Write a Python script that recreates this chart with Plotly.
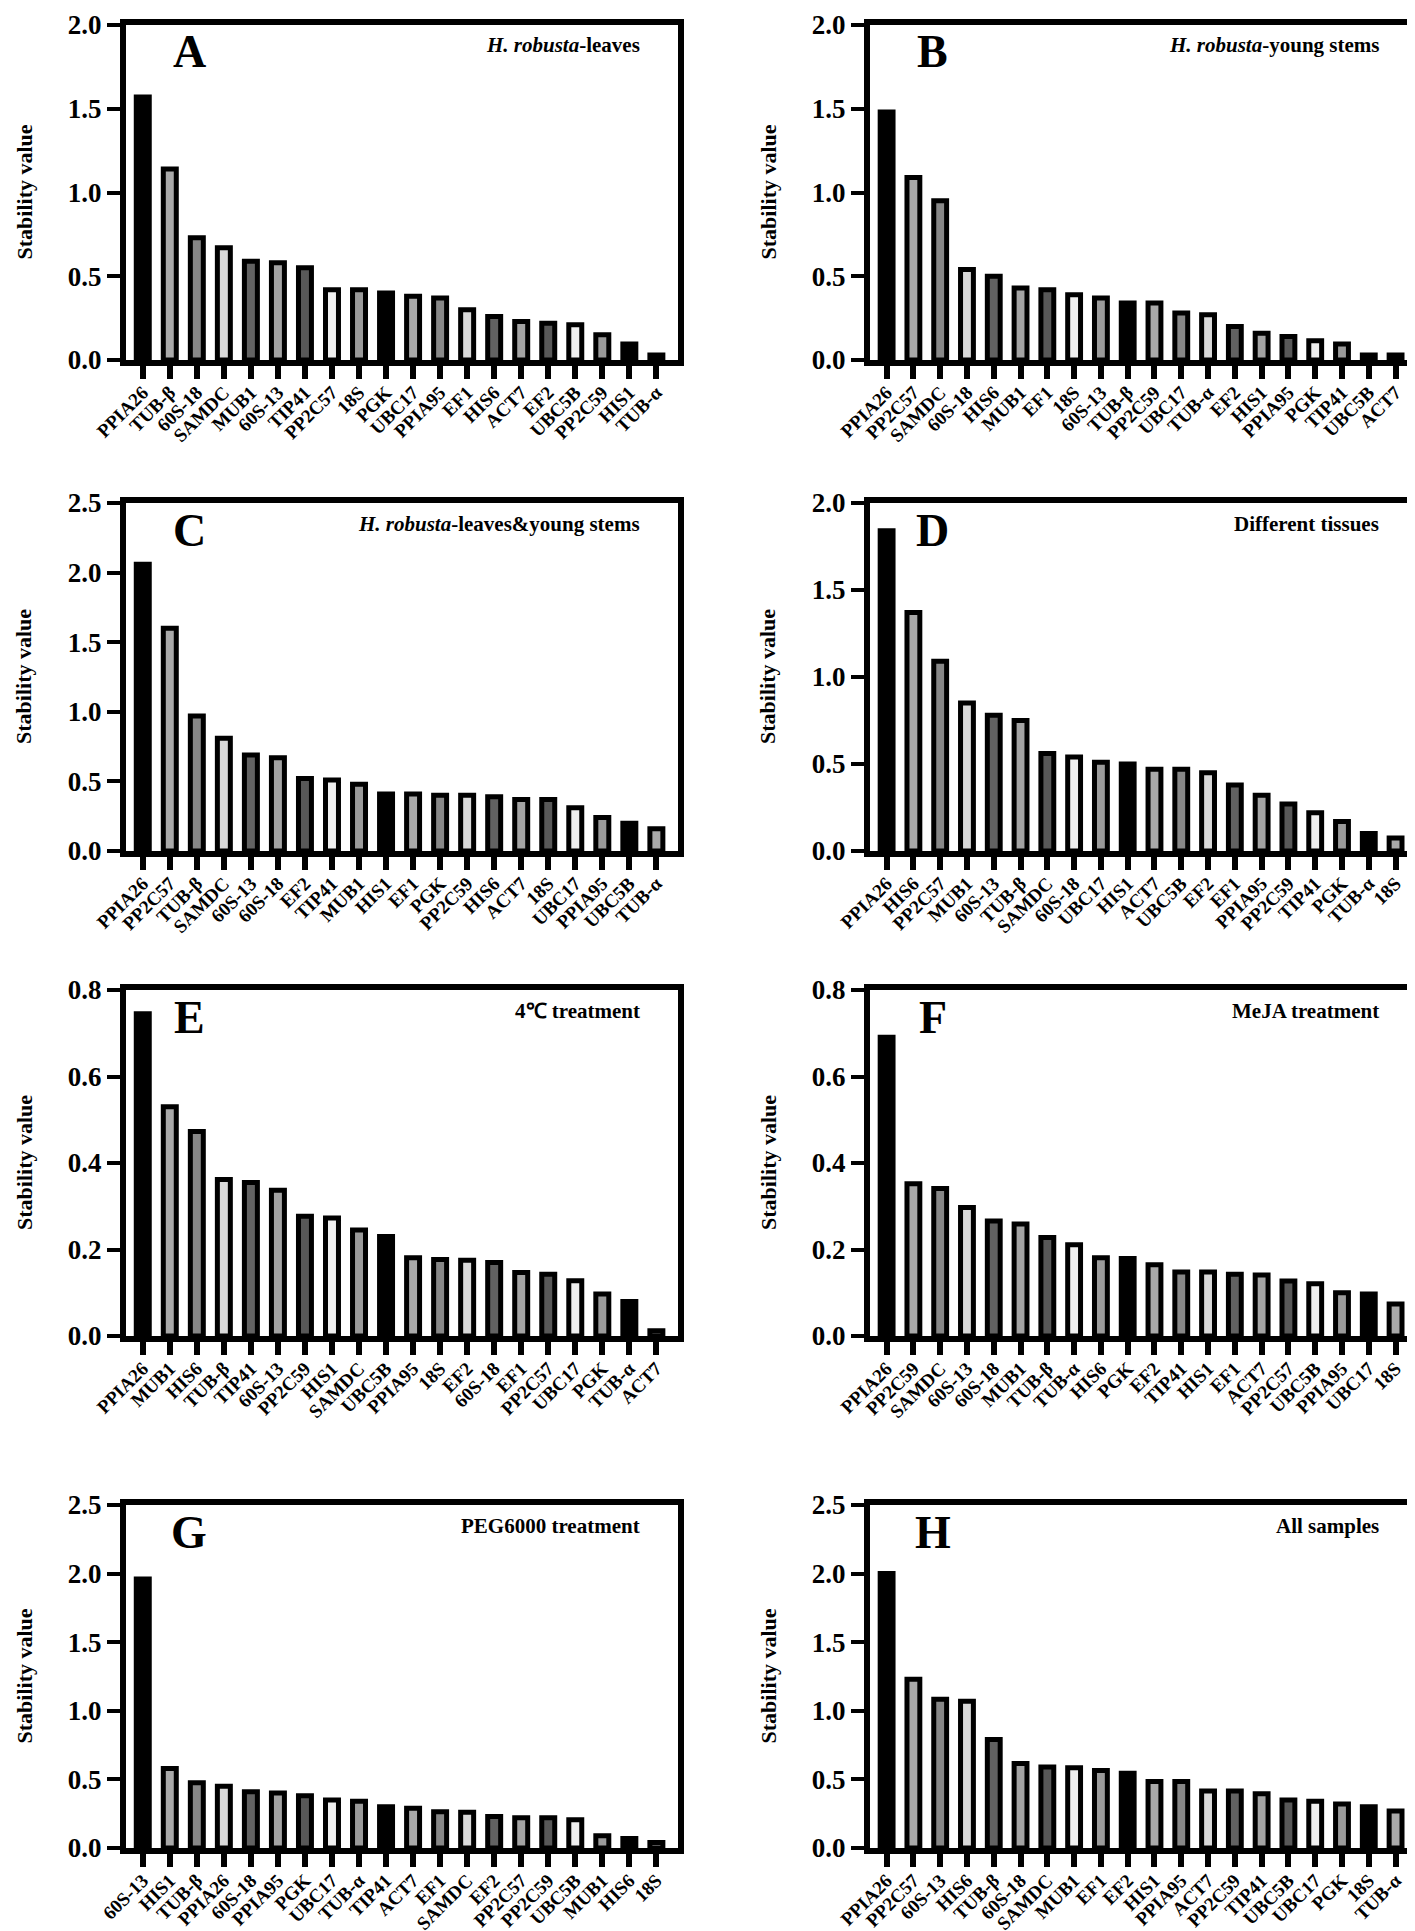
import plotly.graph_objects as go

# ---------------- data ----------------
genes_A = ["PPIA26", "TUB-β", "60S-18", "SAMDC", "MUB1", "60S-13", "TIP41", "PP2C57", "18S", "PGK",
           "UBC17", "PPIA95", "EF1", "HIS6", "ACT7", "EF2", "UBC5B", "PP2C59", "HIS1", "TUB-α"]
vals_A = [1.57, 1.14, 0.73, 0.67, 0.59, 0.58, 0.55, 0.42, 0.42, 0.40,
          0.38, 0.37, 0.30, 0.26, 0.23, 0.22, 0.21, 0.15, 0.095, 0.03]

genes_B = ["PPIA26", "PP2C57", "SAMDC", "60S-18", "HIS6", "MUB1", "EF1", "18S", "60S-13", "TUB-β",
           "PP2C59", "UBC17", "TUB-α", "EF2", "HIS1", "PPIA95", "PGK", "TIP41", "UBC5B", "ACT7"]
vals_B = [1.48, 1.09, 0.95, 0.54, 0.50, 0.43, 0.42, 0.39, 0.37, 0.34,
          0.34, 0.28, 0.27, 0.20, 0.16, 0.14, 0.115, 0.095, 0.03, 0.03]

genes_C = ["PPIA26", "PP2C57", "TUB-β", "SAMDC", "60S-13", "60S-18", "EF2", "TIP41", "MUB1", "HIS1",
           "EF1", "PGK", "PP2C59", "HIS6", "ACT7", "18S", "UBC17", "PPIA95", "UBC5B", "TUB-α"]
vals_C = [2.06, 1.60, 0.97, 0.81, 0.69, 0.67, 0.52, 0.51, 0.48, 0.41,
          0.41, 0.40, 0.40, 0.39, 0.37, 0.37, 0.31, 0.24, 0.20, 0.16]

genes_D = ["PPIA26", "HIS6", "PP2C57", "MUB1", "60S-13", "TUB-β", "SAMDC", "60S-18", "UBC17", "HIS1",
           "ACT7", "UBC5B", "EF2", "EF1", "PPIA95", "PP2C59", "TIP41", "PGK", "TUB-α", "18S"]
vals_D = [1.84, 1.37, 1.09, 0.85, 0.78, 0.75, 0.56, 0.54, 0.51, 0.50,
          0.47, 0.47, 0.45, 0.38, 0.32, 0.27, 0.22, 0.17, 0.10, 0.075]

genes_E = ["PPIA26", "MUB1", "HIS6", "TUB-β", "TIP41", "60S-13", "PP2C59", "HIS1", "SAMDC", "UBC5B",
           "PPIA95", "18S", "EF2", "60S-18", "EF1", "PP2C57", "UBC17", "PGK", "TUB-α", "ACT7"]
vals_E = [0.745, 0.530, 0.473, 0.362, 0.355, 0.337, 0.277, 0.273, 0.245, 0.230,
          0.181, 0.177, 0.175, 0.170, 0.147, 0.143, 0.128, 0.097, 0.080, 0.012]

genes_F = ["PPIA26", "PP2C59", "SAMDC", "60S-13", "60S-18", "MUB1", "TUB-β", "TUB-α", "HIS6", "PGK",
           "EF2", "TIP41", "HIS1", "EF1", "ACT7", "PP2C57", "UBC5B", "PPIA95", "UBC17", "18S"]
vals_F = [0.691, 0.352, 0.341, 0.297, 0.266, 0.259, 0.228, 0.211, 0.181, 0.179,
          0.165, 0.148, 0.148, 0.143, 0.141, 0.127, 0.121, 0.100, 0.097, 0.074]

genes_G = ["60S-13", "HIS1", "TUB-β", "PPIA26", "60S-18", "PPIA95", "PGK", "UBC17", "TUB-α", "TIP41",
           "ACT7", "EF1", "SAMDC", "EF2", "PP2C57", "PP2C59", "UBC5B", "MUB1", "HIS6", "18S"]
vals_G = [1.96, 0.58, 0.475, 0.45, 0.41, 0.40, 0.38, 0.35, 0.34, 0.30,
          0.29, 0.265, 0.26, 0.23, 0.22, 0.22, 0.205, 0.09, 0.07, 0.04]

genes_H = ["PPIA26", "PP2C57", "60S-13", "HIS6", "TUB-β", "60S-18", "SAMDC", "MUB1", "EF1", "EF2",
           "HIS1", "PPIA95", "ACT7", "PP2C59", "TIP41", "UBC5B", "UBC17", "PGK", "18S", "TUB-α"]
vals_H = [2.00, 1.23, 1.085, 1.07, 0.79, 0.615, 0.59, 0.585, 0.565, 0.545,
          0.485, 0.485, 0.415, 0.415, 0.395, 0.35, 0.34, 0.32, 0.30, 0.27]

panel_letters = ["A", "B", "C", "D", "E", "F", "G", "H"]
panel_titles = ["<i>H. robusta</i>-leaves", "<i>H. robusta</i>-young stems",
                "<i>H. robusta</i>-leaves&young stems", "Different tissues",
                "4℃ treatment", "MeJA treatment", "PEG6000 treatment", "All samples"]
y_tick_labels_max = [2.0, 2.0, 2.5, 2.0, 0.8, 0.8, 2.5, 2.5]
y_dticks = [0.5, 0.5, 0.5, 0.5, 0.2, 0.2, 0.5, 0.5]
y_title = "Stability value"

all_genes = [genes_A, genes_B, genes_C, genes_D, genes_E, genes_F, genes_G, genes_H]
all_vals = [vals_A, vals_B, vals_C, vals_D, vals_E, vals_F, vals_G, vals_H]

# ---------------- style ----------------
W, H = 1415, 1931
SERIF = "Liberation Serif, Times New Roman, serif"
GRAYS = ["#000000", "#a9a9a9", "#878787", "#d9d9d9", "#626262",
         "#a3a3a3", "#585858", "#efefef", "#9a9a9a"]

col_px = [(118, 670), (862, 1409)]
row_px = [(17, 352), (495, 843), (982, 1328), (1497, 1840)]

fig = go.Figure()
annotations = []

for i in range(8):
    k = i + 1
    r, c = divmod(i, 2)
    xs = "" if k == 1 else str(k)
    genes, vals = all_genes[i], all_vals[i]
    fig.add_trace(go.Bar(
        x=genes, y=vals, xaxis="x" + xs, yaxis="y" + xs,
        width=0.48,
        marker=dict(color=[GRAYS[j % 9] for j in range(len(genes))],
                    line=dict(color="black", width=5)),
        showlegend=False, hoverinfo="x+y",
    ))
    x0, x1 = col_px[c]
    t, b = row_px[r]
    xdom = [x0 / W, x1 / W]
    ydom = [1 - b / H, 1 - t / H]
    fig.layout["xaxis" + xs] = dict(
        domain=xdom, anchor="y" + xs, type="category", automargin=False,
        categoryorder="array", categoryarray=genes,
        range=[-0.62, len(genes) - 0.2],
        showline=True, linewidth=6, linecolor="black", mirror=True,
        ticks="outside", ticklen=13, tickwidth=6, tickcolor="black",
        tickangle=-45, ticklabelstandoff=-5, ticklabeloverflow="allow",
        tickfont=dict(family=SERIF, size=19, color="black", weight="bold"),
        showgrid=False, zeroline=False, fixedrange=True,
    )
    fig.layout["yaxis" + xs] = dict(
        domain=ydom, anchor="x" + xs, automargin=False,
        range=[0, y_tick_labels_max[i]], tick0=0, dtick=y_dticks[i], tickformat=".1f",
        showline=True, linewidth=6, linecolor="black", mirror=True,
        ticks="outside", ticklen=13, tickwidth=4, tickcolor="black",
        ticklabeloverflow="allow",
        tickfont=dict(family=SERIF, size=27, color="black", weight="bold"),
        showgrid=False, zeroline=False, fixedrange=True,
    )
    annotations.append(dict(
        text="<b>" + panel_letters[i] + "</b>", xref=f"x{xs} domain", yref=f"y{xs} domain",
        x=0.115, y=0.92, xanchor="center", yanchor="middle", showarrow=False,
        font=dict(family=SERIF, size=46, color="black"),
    ))
    annotations.append(dict(
        text="<b>" + panel_titles[i] + "</b>", xref=f"x{xs} domain", yref=f"y{xs} domain",
        x=0.935, y=0.94, xanchor="right", yanchor="middle", showarrow=False,
        font=dict(family=SERIF, size=21, color="black"),
    ))
    annotations.append(dict(
        text="<b>" + y_title + "</b>", xref="paper", yref="paper",
        x=(x0 - 102) / W, y=1 - (t + b) / 2 / H, xanchor="center", yanchor="middle",
        textangle=-90, showarrow=False,
        font=dict(family=SERIF, size=22, color="black"),
    ))

fig.update_layout(
    width=W, height=H,
    margin=dict(l=0, r=0, t=0, b=0, autoexpand=False),
    paper_bgcolor="white", plot_bgcolor="white",
    annotations=annotations,
)

fig.write_html("out.html")
